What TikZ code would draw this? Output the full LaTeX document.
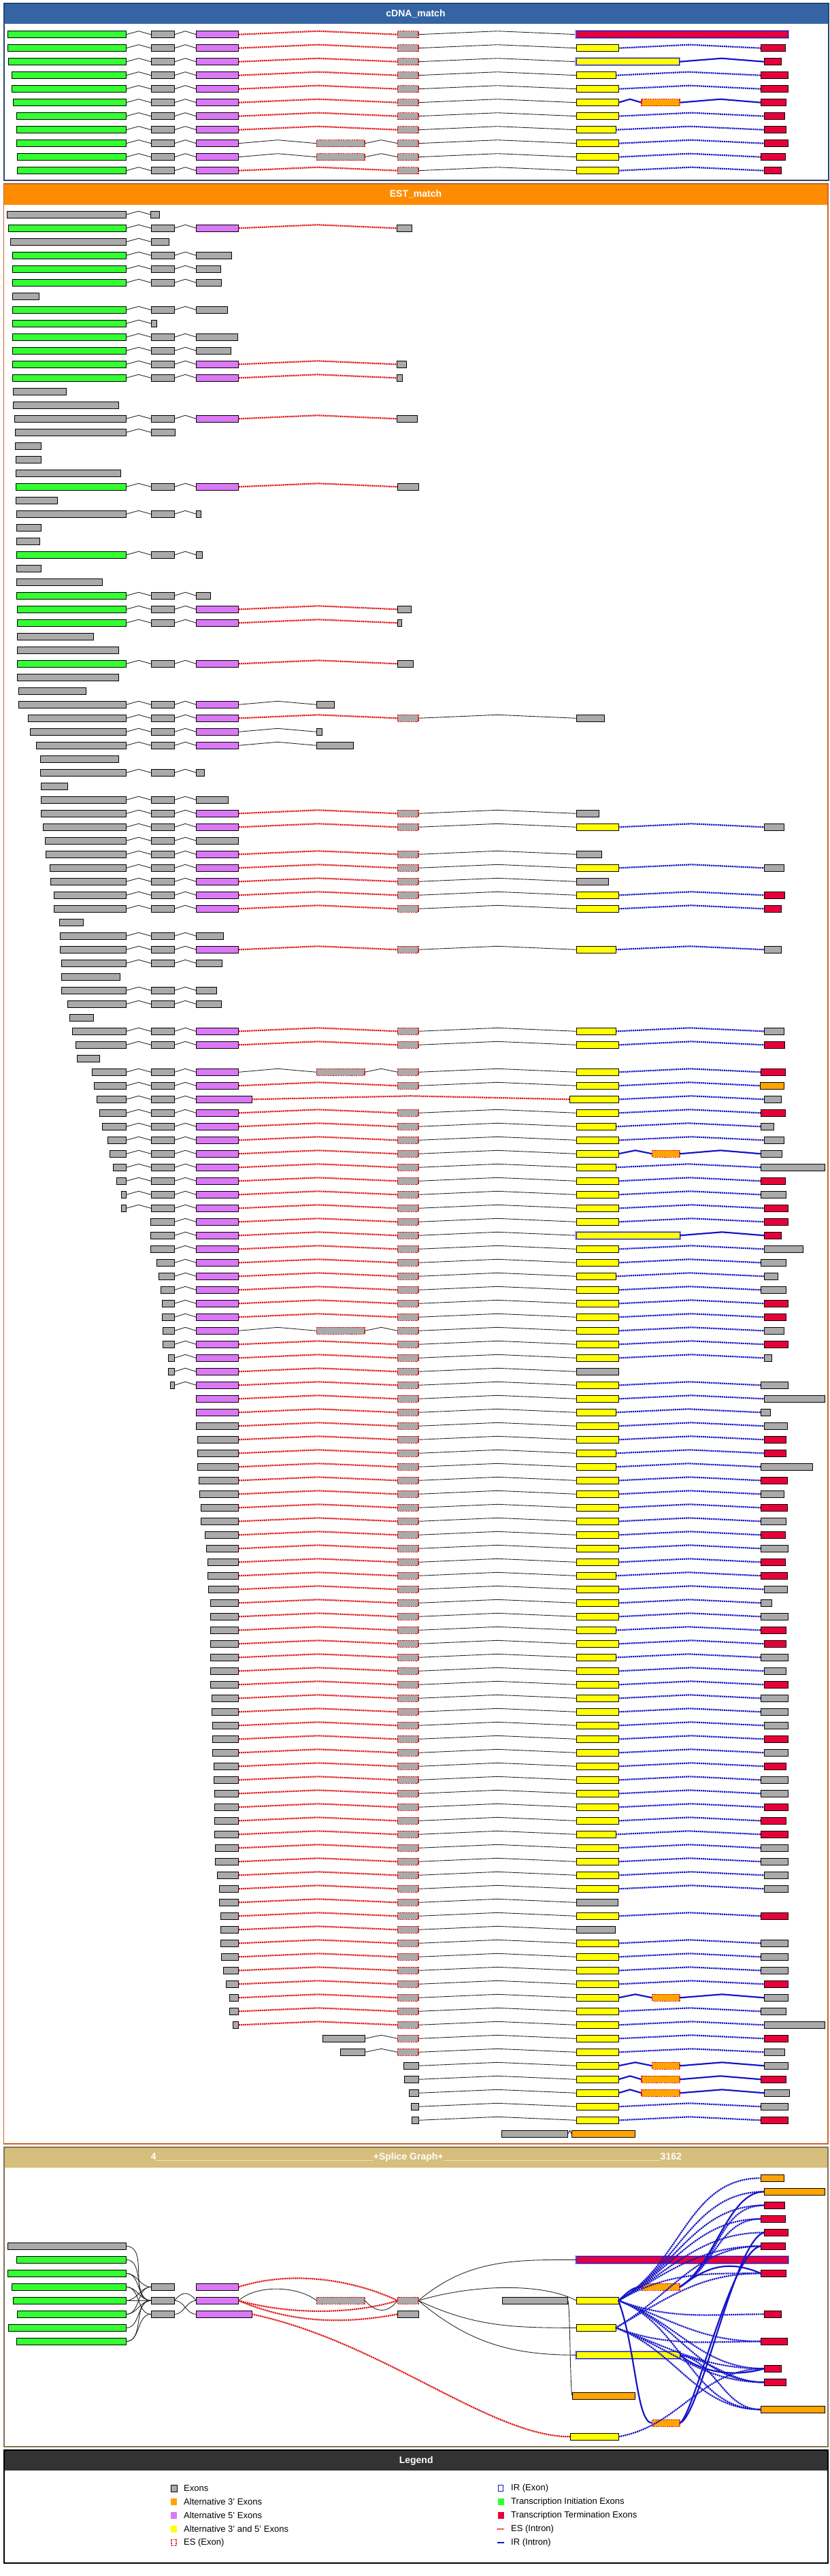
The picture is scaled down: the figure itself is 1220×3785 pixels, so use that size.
\documentclass[tikz,border=0pt]{standalone}
\usepackage{fontspec}
\setmainfont{Liberation Sans}
\definecolor{exgrey}{RGB}{170,170,170}
\definecolor{exgreen}{RGB}{51,255,51}
\definecolor{expink}{RGB}{218,120,245}
\definecolor{exyellow}{RGB}{255,255,0}
\definecolor{exred}{RGB}{232,0,58}
\definecolor{exorange}{RGB}{255,165,0}
\definecolor{irblue}{RGB}{20,20,200}
\definecolor{irhalo}{RGB}{150,160,240}
\definecolor{esred}{RGB}{225,20,20}
\definecolor{cdnahead}{RGB}{52,100,163}
\definecolor{cdnaframe}{RGB}{40,70,110}
\definecolor{esthead}{RGB}{255,140,0}
\definecolor{estframe}{RGB}{200,100,40}
\definecolor{sghead}{RGB}{214,190,125}
\definecolor{sgframe}{RGB}{130,115,85}
\definecolor{lghead}{RGB}{51,51,51}
\definecolor{intronblack}{RGB}{40,40,40}
\tikzset{
 exbase/.style={draw=black, line width=0.9pt},
 exg/.style={exbase, fill=exgrey},
 exG/.style={exbase, fill=exgreen},
 exp/.style={exbase, fill=expink},
 exy/.style={exbase, fill=exyellow},
 exr/.style={exbase, fill=exred},
 exo/.style={exbase, fill=exorange},
 exe/.style={fill=exgrey, draw=esred, line width=1.5pt, dash pattern=on 1.8pt off 0.9pt},
 exO/.style={fill=exorange, draw=esred, line width=1.5pt, dash pattern=on 1.8pt off 0.9pt},
 exY/.style={fill=exyellow, draw=irblue, line width=1.4pt, preaction={draw=irhalo, line width=3.5pt}},
 exR/.style={fill=exred, draw=irblue, line width=1.4pt, preaction={draw=irhalo, line width=3.5pt}},
 intk/.style={draw=intronblack, line width=0.9pt},
 intd/.style={draw=esred, line width=2.2pt, dash pattern=on 2.2pt off 0.9pt},
 intb/.style={draw=irblue, line width=2.2pt, dash pattern=on 2.2pt off 0.9pt},
 intB/.style={draw=irblue, line width=2.2pt},
 headtext/.style={text=white, font=\fontsize{14}{16}\selectfont\bfseries},
 legtext/.style={anchor=west, inner sep=0pt, font=\fontsize{13}{15}\selectfont},
 legicon/.style={inner sep=0pt, outer sep=0pt, minimum width=9pt, minimum height=10pt},
}
\newcommand\grrow[2]{%
 \foreach \ExA/\ExB/\ExS/\InS in {#2}{%
  \if\InS n\relax\else
   \draw[int\InS] (\PrevX,#1) -- ({(\PrevX+\ExA)/2},{#1-5}) -- (\ExA,#1);
  \fi
  \draw[ex\ExS] (\ExA,{#1-5}) rectangle (\ExB,{#1+5});
  \xdef\PrevX{\ExB}%
 }}
\newcommand\gr[2]{\pgfmathsetmacro\RowY{315.3+20*#1}\grrow{\RowY}{#2}}
\newcommand\gc[2]{\pgfmathsetmacro\RowY{50.7+20*#1}\grrow{\RowY}{#2}}
\newcommand\RowUp[7]{\gr{#1}{#2/185.5/#3/n, 222/256.4/g/k, 288.4/350.7/p/k, 584.6/615/e/d, 847.2/#4/y/k, #5/#6/#7/b}}
\newcommand\RowMid[6]{\gr{#1}{#2/256.4/g/n, 288.4/350.7/p/k, 584.6/615/e/d, 847.2/#3/y/k, #4/#5/#6/b}}
\newcommand\RowLow[6]{\gr{#1}{#2/350.7/g/n, 584.6/615/e/d, 847.2/#3/y/k, #4/#5/#6/b}}
\newcommand\snode[5]{\pgfmathsetmacro\SW{#3-#2}\node[ex#5, rectangle, inner sep=0pt, outer sep=0pt, minimum height=10pt, minimum width=\SW pt, anchor=west] (#1) at (#2,#4) {};}
\newcommand\UsTen{\_\_\_\_\_\_\_\_\_\_}
\begin{document}
\begin{tikzpicture}[x=1pt,y=-1pt]
\useasboundingbox (0,0) rectangle (1220,3785);
\fill[white] (0,0) rectangle (1220,3785);
% ---------- panels ----------
\fill[cdnahead] (6,5) rectangle (1218,35);
\draw[cdnaframe, line width=1.2pt] (6,5) rectangle (1218,265);
\node[headtext] (hcdna) at (611,20) {cDNA\_match};
\fill[esthead] (5.5,270) rectangle (1217,300.7);
\draw[estframe, line width=1.2pt] (5.5,270) rectangle (1217,3150);
\node[headtext] (hest) at (611,285) {EST\_match};
\fill[sghead] (6,3155) rectangle (1217,3185);
\draw[sgframe, line width=1.2pt] (6,3155) rectangle (1217,3595);
\node[headtext] (hsg) at (612,3170) {4\UsTen\UsTen\UsTen\UsTen\_+Splice Graph+\UsTen\UsTen\UsTen\UsTen\_3162};
\fill[lghead] (6,3600) rectangle (1217,3630);
\draw[black, line width=1.2pt] (6,3600) rectangle (1217,3766);
\node[headtext] (hlg) at (611.7,3616) {Legend};
% ---------- cDNA rows ----------
\gc{0}{11.7/185.5/G/n, 222/256.4/g/k, 288.4/350.7/p/k, 584.6/615/e/d, 847.2/1158.2/R/k}
\gc{1}{11.7/185.5/G/n, 222/256.4/g/k, 288.4/350.7/p/k, 584.6/615/e/d, 847.2/909/y/k, 1118.5/1154.3/r/b}
\gc{2}{12.5/185.5/G/n, 222/256.4/g/k, 288.4/350.7/p/k, 584.6/615/e/d, 847.2/998.4/Y/k, 1123.2/1148/r/B}
\gc{3}{17.9/185.5/G/n, 222/256.4/g/k, 288.4/350.7/p/k, 584.6/615/e/d, 847.2/905/y/k, 1118.5/1158.2/r/b}
\gc{4}{17.9/185.5/G/n, 222/256.4/g/k, 288.4/350.7/p/k, 584.6/615/e/d, 847.2/909/y/k, 1118.5/1158.2/r/b}
\gc{5}{19.5/185.5/G/n, 222/256.4/g/k, 288.4/350.7/p/k, 584.6/615/e/d, 847.2/909/y/k, 943/999.2/O/B, 1118.5/1155.9/r/B}
\gc{6}{24.2/185.5/G/n, 222/256.4/g/k, 288.4/350.7/p/k, 584.6/615/e/d, 847.2/909/y/k, 1123.2/1153.5/r/b}
\gc{7}{24.2/185.5/G/n, 222/256.4/g/k, 288.4/350.7/p/k, 584.6/615/e/d, 847.2/905/y/k, 1123.2/1155.9/r/b}
\gc{8}{24.2/185.5/G/n, 222/256.4/g/k, 288.4/350.7/p/k, 465.3/536.2/e/k, 584.6/615/e/k, 847.2/909/y/k, 1123.2/1158.2/r/b}
\gc{9}{25/185.5/G/n, 222/256.4/g/k, 288.4/350.7/p/k, 465.3/536.2/e/k, 584.6/615/e/k, 847.2/909/y/k, 1118.5/1154.3/r/b}
\gc{10}{25/185.5/G/n, 222/256.4/g/k, 288.4/350.7/p/k, 584.6/615/e/d, 847.2/909/y/k, 1123.2/1148/r/b}
% ---------- EST rows ----------
\gr{0}{10.3/185.5/g/n, 221.5/234.5/g/k}
\gr{1}{12.3/185.5/G/n, 222/256.4/g/k, 288.4/350.7/p/k, 583/605/g/d}
\gr{2}{15.4/185.5/g/n, 222/248/g/k}
\gr{3}{18.6/185.5/G/n, 222/256.4/g/k, 288.4/340/g/k}
\gr{4}{18.6/185.5/G/n, 222/256.4/g/k, 288.4/324/g/k}
\gr{5}{18.6/185.5/G/n, 222/256.4/g/k, 288.4/325/g/k}
\gr{6}{18.6/57.3/g/n}
\gr{7}{18.6/185.5/G/n, 222/256.4/g/k, 288.4/334.5/g/k}
\gr{8}{18.6/185.5/G/n, 222/230.5/g/k}
\gr{9}{18.6/185.5/G/n, 222/256.4/g/k, 288.4/349.5/g/k}
\gr{10}{18.6/185.5/G/n, 222/256.4/g/k, 288.4/339/g/k}
\gr{11}{18.6/185.5/G/n, 222/256.4/g/k, 288.4/350.7/p/k, 583/597.5/g/d}
\gr{12}{18.6/185.5/G/n, 222/256.4/g/k, 288.4/350.7/p/k, 583/591.5/g/d}
\gr{13}{19.4/97.3/g/n}
\gr{14}{19.4/174.8/g/n}
\gr{15}{21.4/185.5/g/n, 222/256.4/g/k, 288.4/350.7/p/k, 583/613/g/d}
\gr{16}{22.5/185.5/g/n, 222/257.4/g/k}
\gr{17}{22.5/60.5/g/n}
\gr{18}{23.4/60/g/n}
\gr{19}{23.4/177.7/g/n}
\gr{20}{23.4/185.5/G/n, 222/256.4/g/k, 288.4/350.7/p/k, 584.6/615/g/d}
\gr{21}{23.4/84.2/g/n}
\gr{22}{24.2/185.5/g/n, 222/256.4/g/k, 288.4/295.4/g/k}
\gr{23}{24.2/60/g/n}
\gr{24}{24.2/58.5/g/n}
\gr{25}{24.2/185.5/G/n, 222/256.4/g/k, 288.4/297.7/g/k}
\gr{26}{24.2/60/g/n}
\gr{27}{24.2/150.4/g/n}
\gr{28}{24.2/185.5/G/n, 222/256.4/g/k, 288.4/309.4/g/k}
\gr{29}{25/185.5/G/n, 222/256.4/g/k, 288.4/350.7/p/k, 584.6/604.8/g/d}
\gr{30}{25/185.5/G/n, 222/256.4/g/k, 288.4/350.7/p/k, 584.6/590/g/d}
\gr{31}{25/137.2/g/n}
\gr{32}{25/174.6/g/n}
\gr{33}{25/185.5/G/n, 222/256.4/g/k, 288.4/350.7/p/k, 584.6/607.2/g/d}
\gr{34}{25/174.6/g/n}
\gr{35}{27.3/126.3/g/n}
\gr{36}{27.3/185.5/g/n, 222/256.4/g/k, 288.4/350.7/p/k, 465.3/491.8/g/k}
\gr{37}{41.3/185.5/g/n, 222/256.4/g/k, 288.4/350.7/p/k, 584.6/615/e/d, 847.2/888.5/g/k}
\gr{38}{44.4/185.5/g/n, 222/256.4/g/k, 288.4/350.7/p/k, 465.3/473/g/k}
\gr{39}{53.8/185.5/g/n, 222/256.4/g/k, 288.4/350.7/p/k, 465.3/519.9/g/k}
\gr{40}{59.2/174.6/g/n}
\gr{41}{59.2/185.5/g/n, 222/256.4/g/k, 288.4/300/g/k}
\gr{42}{60.8/99.8/g/n}
\gr{43}{60.8/185.5/g/n, 222/256.4/g/k, 288.4/335.2/g/k}
\gr{44}{60.8/185.5/g/n, 222/256.4/g/k, 288.4/350.7/p/k, 584.6/615/e/d, 847.2/880/g/k}
\RowUp{45}{63.9}{g}{909}{1123.2}{1152}{g}
\gr{46}{66.3/185.5/g/n, 222/256.4/g/k, 288.4/350.7/g/k}
\gr{47}{67/185.5/g/n, 222/256.4/g/k, 288.4/350.7/p/k, 584.6/615/e/d, 847.2/884.6/g/k}
\RowUp{48}{73.3}{g}{909}{1123.2}{1152}{g}
\gr{49}{74.8/185.5/g/n, 222/256.4/g/k, 288.4/350.7/p/k, 584.6/615/e/d, 847.2/894.8/g/k}
\RowUp{50}{79.5}{g}{909}{1123.2}{1153.5}{r}
\RowUp{51}{79.5}{g}{909}{1123.2}{1148}{r}
\gr{52}{87.3/122.4/g/n}
\gr{53}{88.9/185.5/g/n, 222/256.4/g/k, 288.4/328.1/g/k}
\RowUp{54}{88.9}{g}{905}{1123.2}{1148.9}{g}
\gr{55}{90.4/185.5/g/n, 222/256.4/g/k, 288.4/326.6/g/k}
\gr{56}{90.4/176.1/g/n}
\gr{57}{90.4/185.5/g/n, 222/256.4/g/k, 288.4/318/g/k}
\gr{58}{99.8/185.5/g/n, 222/256.4/g/k, 288.4/325.8/g/k}
\gr{59}{102.1/137.2/g/n}
\RowUp{60}{106}{g}{905}{1123.2}{1152}{g}
\RowUp{61}{111.5}{g}{909}{1123.2}{1153.5}{r}
\gr{62}{113.8/146.5/g/n}
\gr{63}{135.6/185.5/g/n, 222/256.4/g/k, 288.4/350.7/p/k, 465.3/536.2/e/k, 584.6/615/e/k, 847.2/909/y/k, 1118.5/1154.3/r/b}
\RowUp{64}{138}{g}{909}{1117}{1152.8}{o}
\gr{65}{142.6/185.5/g/n, 222/256.4/g/k, 288.4/370.2/p/k, 837.9/909/y/d, 1123.2/1148/g/b}
\RowUp{66}{146.5}{g}{909}{1118.5}{1154.3}{r}
\RowUp{67}{150.4}{g}{905}{1118.5}{1137.2}{g}
\RowUp{68}{158.2}{g}{909}{1123.2}{1152}{g}
\gr{69}{161.3/185.5/g/n, 222/256.4/g/k, 288.4/350.7/p/k, 584.6/615/e/d, 847.2/909/y/k, 958.7/999.2/O/B, 1118.5/1149.6/g/B}
\RowUp{70}{166}{g}{905}{1118.5}{1212}{g}
\RowUp{71}{171.5}{g}{909}{1118.5}{1154.3}{r}
\RowUp{72}{178.5}{g}{909}{1118.5}{1155.9}{g}
\RowUp{73}{178.5}{g}{909}{1123.2}{1158.2}{r}
\RowMid{74}{221.4}{909}{1123.2}{1158.2}{r}
\gr{75}{221.4/256.4/g/n, 288.4/350.7/p/k, 584.6/615/e/d, 847.2/999.2/Y/k, 1123.2/1148/r/B}
\RowMid{76}{221.4}{909}{1123.2}{1180}{g}
\RowMid{77}{230}{909}{1118.5}{1155.9}{g}
\RowMid{78}{233.8}{905}{1123.2}{1143.4}{g}
\RowMid{79}{236.2}{909}{1118.5}{1155.9}{g}
\RowMid{80}{238.5}{909}{1123.2}{1158.2}{r}
\RowMid{81}{238.5}{909}{1123.2}{1155.9}{r}
\gr{82}{239.3/256.4/g/n, 288.4/350.7/p/k, 465.3/536.2/e/k, 584.6/615/e/k, 847.2/909/y/k, 1123.2/1152/g/b}
\RowMid{83}{239.3}{909}{1123.2}{1158.2}{r}
\RowMid{84}{247}{909}{1123.2}{1134.8}{g}
\gr{85}{247/256.4/g/n, 288.4/350.7/p/k, 584.6/615/e/d, 847.2/909/g/k}
\RowMid{86}{250.2}{909}{1118.5}{1158.2}{g}
\gr{87}{288.4/350.7/p/n, 584.6/615/e/d, 847.2/909/y/k, 1123.2/1212/g/b}
\gr{88}{288.4/350.7/p/n, 584.6/615/e/d, 847.2/905/y/k, 1118.5/1132.5/g/b}
\RowLow{89}{288.4}{909}{1123.2}{1157.4}{g}
\RowLow{90}{290}{909}{1123.2}{1155.9}{r}
\RowLow{91}{290}{905}{1123.2}{1155.9}{r}
\RowLow{92}{290}{905}{1118.5}{1194}{g}
\RowLow{93}{292.3}{909}{1118.5}{1157.4}{r}
\RowLow{94}{293}{909}{1118.5}{1152.8}{g}
\RowLow{95}{295.4}{909}{1118.5}{1157.4}{r}
\RowLow{96}{295.4}{909}{1118.5}{1155.9}{g}
\RowLow{97}{301.6}{909}{1118.5}{1154.3}{r}
\RowLow{98}{303.2}{909}{1118.5}{1158.2}{g}
\RowLow{99}{305.5}{909}{1118.5}{1154.3}{r}
\RowLow{100}{305.5}{905}{1118.5}{1157.4}{r}
\RowLow{101}{306.3}{909}{1123.2}{1157.4}{g}
\RowLow{102}{309.4}{909}{1118.5}{1134.8}{g}
\RowLow{103}{309.4}{909}{1118.5}{1158.2}{g}
\RowLow{104}{309.4}{905}{1118.5}{1155.9}{r}
\RowLow{105}{309.4}{909}{1123.2}{1155.9}{r}
\RowLow{106}{309.4}{905}{1118.5}{1158.2}{g}
\RowLow{107}{309.4}{909}{1123.2}{1155.9}{g}
\RowLow{108}{309.4}{909}{1123.2}{1158.2}{r}
\RowLow{109}{311}{909}{1118.5}{1158.2}{g}
\RowLow{110}{311}{909}{1118.5}{1158.2}{g}
\RowLow{111}{312.5}{909}{1123.2}{1158.2}{g}
\RowLow{112}{312.5}{909}{1123.2}{1158.2}{r}
\RowLow{113}{312.5}{909}{1123.2}{1158.2}{g}
\RowLow{114}{314.9}{909}{1123.2}{1155.9}{r}
\RowLow{115}{314.9}{909}{1118.5}{1158.2}{g}
\RowLow{116}{315.7}{909}{1118.5}{1158.2}{g}
\RowLow{117}{315.7}{909}{1123.2}{1158.2}{r}
\RowLow{118}{315.7}{909}{1118.5}{1155.9}{r}
\RowLow{119}{315.7}{905}{1118.5}{1158.2}{r}
\RowLow{120}{316.4}{909}{1118.5}{1158.2}{g}
\RowLow{121}{316.4}{909}{1118.5}{1158.2}{g}
\RowLow{122}{319.6}{909}{1123.2}{1158.2}{g}
\RowLow{123}{322.7}{909}{1123.2}{1158.2}{g}
\gr{124}{322.7/350.7/g/n, 584.6/615/e/d, 847.2/908/g/k}
\RowLow{125}{324.2}{909}{1118.5}{1158.2}{r}
\gr{126}{324.2/350.7/g/n, 584.6/615/e/d, 847.2/904/g/k}
\RowLow{127}{324.2}{909}{1118.5}{1158.2}{g}
\RowLow{128}{325}{909}{1118.5}{1158.2}{g}
\RowLow{129}{328.1}{909}{1118.5}{1158.2}{g}
\RowLow{130}{332}{909}{1123.2}{1158.2}{r}
\gr{131}{337.5/350.7/g/n, 584.6/615/e/d, 847.2/909/y/k, 958.7/999.2/O/B, 1123.2/1158.2/g/B}
\RowLow{132}{337.5}{909}{1118.5}{1155.9}{g}
\RowLow{133}{342.2}{909}{1123.2}{1212}{g}
\gr{134}{474.7/536.2/g/n, 584.6/615/e/k, 847.2/909/y/k, 1123.2/1158.2/r/b}
\gr{135}{500.4/536.2/g/n, 584.6/615/e/k, 847.2/909/y/k, 1123.2/1153.5/g/b}
\gr{136}{593/615/g/n, 847.2/909/y/k, 958.7/999.2/O/B, 1123.2/1158.2/g/B}
\gr{137}{594/615/g/n, 847.2/909/y/k, 943/999.2/O/B, 1118.5/1155.9/r/B}
\gr{138}{601/615/g/n, 847.2/909/y/k, 943/999.2/O/B, 1123.2/1160/g/B}
\gr{139}{604/615/g/n, 847.2/909/y/k, 1118.5/1158.2/g/b}
\gr{140}{605.6/615/g/n, 847.2/909/y/k, 1118.5/1158.2/r/b}
\gr{141}{737.3/834.8/g/n, 840.2/933/o/k}
% ---------- splice graph nodes ----------
\snode{sL1}{11}{185.5}{3300.3}{g}
\snode{sL2}{24.2}{185.5}{3320.3}{G}
\snode{sL3}{11.7}{185.5}{3340.3}{G}
\snode{sL4}{17.9}{185.5}{3360.3}{G}
\snode{sL5}{19.5}{185.5}{3380.3}{G}
\snode{sL6}{25.7}{185.5}{3400.3}{G}
\snode{sL7}{12.5}{185.5}{3420.3}{G}
\snode{sL8}{24.2}{185.5}{3440.3}{G}
\snode{sC1}{222}{256.4}{3360.3}{g}
\snode{sC2}{222}{256.4}{3380.3}{g}
\snode{sC3}{222}{256.4}{3400.3}{g}
\snode{sP1}{288.4}{350.7}{3360.3}{p}
\snode{sP2}{288.4}{350.7}{3380.3}{p}
\snode{sP3}{288.4}{370.2}{3400.3}{p}
\snode{sEB}{465.3}{536.2}{3380.3}{e}
\snode{sE1}{584.6}{615}{3380.3}{e}
\snode{sE2}{584.6}{615}{3400.3}{g}
\snode{sGX}{738}{834.8}{3380.3}{g}
\snode{sRB}{847.2}{1158.2}{3320.3}{R}
\snode{sY1}{847.2}{909}{3380.3}{y}
\snode{sY2}{847.2}{905}{3420.3}{y}
\snode{sYI}{847.2}{999.2}{3460.3}{Y}
\snode{sOR}{841}{933}{3520.3}{o}
\snode{sY3}{838}{909}{3580.3}{y}
\snode{sO1}{943}{999.2}{3360.3}{O}
\snode{sO2}{958.7}{999.2}{3560.3}{O}
\snode{sT1}{1118.5}{1152.8}{3200.3}{o}
\snode{sT2}{1123.2}{1212}{3220.3}{o}
\snode{sT3}{1123.2}{1153}{3240.3}{r}
\snode{sT4}{1118.5}{1154.3}{3260.3}{r}
\snode{sT5}{1123.2}{1158.2}{3280.3}{r}
\snode{sT6}{1118.5}{1154.3}{3300.3}{r}
\snode{sT7}{1118.5}{1155.9}{3340.3}{r}
\snode{sT8}{1123.2}{1148}{3400.3}{r}
\snode{sT9}{1118.5}{1157.4}{3440.3}{r}
\snode{sT10}{1123.2}{1148}{3480.3}{r}
\snode{sT11}{1123.2}{1155.9}{3500.3}{r}
\snode{sT12}{1118.5}{1212}{3540.3}{o}
% ---------- splice graph connectors ----------
\foreach \a/\b in {sL1/sC2, sL2/sC2, sL3/sC1, sL3/sC2, sL4/sC2, sL4/sC3, sL5/sC1, sL5/sC2, sL6/sC2, sL6/sC1, sL7/sC2, sL8/sC2, sL8/sC3}
  \draw[intk] (\a.east) to[out=0,in=180] (\b.west);
\draw[intk] (sC2.east) .. controls +(12,-14) and +(-12,-14) .. (sP2.west);
\draw[intk] (sC2.east) to[out=0,in=180] (sP3.west);
\draw[intk] (sC3.east) to[out=0,in=180] (sP2.west);
\draw[intk] (sP2.east) .. controls (380,3355) and (440,3360) .. (sEB.west);
\draw[intk] (sEB.east) .. controls (555,3400) and (570,3398) .. (sE1.west);
\draw[intk] (sE1.east) to[out=40,in=180] (sRB.west);
\draw[intk] (sE1.east) .. controls (700,3355) and (800,3355) .. (sY1.west);
\draw[intk] (sE1.east) to[out=-25,in=180] (sY2.west);
\draw[intk] (sE1.east) to[out=-40,in=180] (sYI.west);
\draw[intk] (sGX.east) .. controls (838,3390) and (838,3510) .. (sOR.west);
\draw[intd] (sP1.east) .. controls (430,3335) and (520,3350) .. (sE1.west);
\draw[intd] (sP2.east) .. controls (430,3402) and (520,3400) .. (sE1.west);
\draw[intd] (sP2.east) .. controls (440,3418) and (520,3412) .. (sE2.west);
\draw[intd] (sP3.east) .. controls (560,3440) and (720,3580) .. (sY3.west);
\draw[intB] (sY1.east) to[out=40,in=180] (sO1.west);
\draw[intB] (sY1.east) .. controls (935,3450) and (935,3560) .. (sO2.west);
\draw[intB] (sO1.east) .. controls (1050,3330) and (1070,3220) .. (sT2.west);
\draw[intB] (sO1.east) .. controls (1040,3330) and (1070,3320) .. (sT7.west);
\draw[intB] (sO2.east) .. controls (1030,3550) and (1080,3290) .. (sT5.west);
\draw[intB] (sO2.east) .. controls (1020,3550) and (1075,3305) .. (sT6.west);
\draw[intB] (sYI.east) .. controls (1040,3492) and (1090,3490) .. (sT10.west);
\foreach \b in {sT1, sT2, sT3, sT4, sT5, sT6, sT7}
  \draw[intb] (sY1.east) to[out=30,in=180] (\b.west);
\foreach \b in {sT8, sT9, sT10, sT11, sT12}
  \draw[intb] (sY1.east) to[out=-20,in=180] (\b.west);
\foreach \b in {sT6, sT7}
  \draw[intb] (sY2.east) to[out=30,in=180] (\b.west);
\foreach \b in {sT9, sT10, sT11, sT12}
  \draw[intb] (sY2.east) to[out=-20,in=180] (\b.west);
\foreach \b in {sT11, sT12}
  \draw[intb] (sYI.east) to[out=-10,in=180] (\b.west);
\foreach \b in {sT3, sT4}
  \draw[intb] (sO1.east) to[out=30,in=180] (\b.west);
\draw[intb] (sY3.east) to[out=10,in=180] (sT10.west);
% ---------- legend ----------
\node[legicon, draw=black, line width=0.9pt, fill=exgrey] (li1) at (255.5,3656) {};
\node[legtext] (lt1) at (270,3656) {Exons};
\node[legicon, fill=exorange] (li2) at (255.5,3676) {};
\node[legtext] (lt2) at (270,3676) {Alternative 3' Exons};
\node[legicon, fill=expink] (li3) at (255.5,3696) {};
\node[legtext] (lt3) at (270,3696) {Alternative 5' Exons};
\node[legicon, fill=exyellow] (li4) at (255.5,3716) {};
\node[legtext] (lt4) at (270,3716) {Alternative 3' and 5' Exons};
\node[legicon, draw=esred, line width=1.3pt, dash pattern=on 1.5pt off 1pt, fill=white, minimum width=7pt, minimum height=9pt] (li5) at (255.5,3736) {};
\node[legtext] (lt5) at (270,3736) {ES (Exon)};
\node[legicon, draw=irblue, line width=1.4pt, fill=white, minimum width=7pt, minimum height=9pt] (li6) at (736,3656) {};
\node[legtext] (lt6) at (751,3656) {IR (Exon)};
\node[legicon, fill=exgreen] (li7) at (736,3676) {};
\node[legtext] (lt7) at (751,3676) {Transcription Initiation Exons};
\node[legicon, fill=exred] (li8) at (736,3696) {};
\node[legtext] (lt8) at (751,3696) {Transcription Termination Exons};
\coordinate (li9a) at (731,3716);
\coordinate (li9b) at (741,3716);
\draw[intd] (li9a) -- (li9b);
\node[legtext] (lt9) at (751,3716) {ES (Intron)};
\coordinate (li10a) at (731,3736);
\coordinate (li10b) at (741,3736);
\draw[intB] (li10a) -- (li10b);
\node[legtext] (lt10) at (751,3736) {IR (Intron)};
\end{tikzpicture}
\end{document}
